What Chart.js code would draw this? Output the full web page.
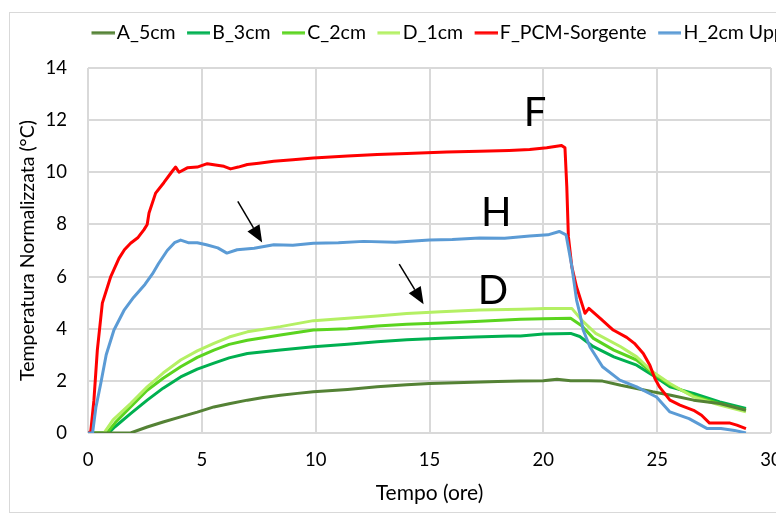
<!DOCTYPE html>
<html><head><meta charset="utf-8">
<script src="https://cdn.jsdelivr.net/npm/chart.js@4.4.1/dist/chart.umd.min.js"></script>
<style>
html,body{margin:0;padding:0;background:#fff;}
#wrap{position:relative;width:776px;height:513px;overflow:hidden;background:#fff;}
#frame{position:absolute;left:9px;top:12px;width:820px;height:499px;border:1px solid #d9d9d9;}
#c{position:absolute;left:0;top:0;}
</style></head><body>
<div id="wrap"><div id="frame"></div><canvas id="c" width="776" height="513"></canvas></div>
<script>
// ---- data (time in hours, normalized temperature in °C) ----
const seriesNames = ['A_5cm', 'B_3cm', 'C_2cm', 'D_1cm', 'F_PCM-Sorgente', 'H_2cm Upper'];

const tA = [0, 1.5, 1.87, 2.6, 3.3, 4.07, 4.8, 5.53, 6.2, 7.0, 7.7, 8.45, 9.2, 9.9, 11.4, 12.7, 14.0, 15.0, 16.5, 18.0, 19.0, 20.0, 20.6, 21.2, 22.0, 22.6, 23.4, 24.1, 24.8, 25.6, 26.6, 27.75, 28.9];
const vA = [0, 0, 0.0, 0.23, 0.42, 0.62, 0.8, 1.0, 1.12, 1.26, 1.36, 1.45, 1.52, 1.58, 1.67, 1.77, 1.85, 1.9, 1.94, 1.98, 1.99, 2.0, 2.06, 2.0, 2.0, 1.99, 1.83, 1.71, 1.58, 1.45, 1.26, 1.13, 0.87];

const tB = [0, 0.9, 1.2, 1.87, 2.6, 3.3, 4.07, 4.8, 5.5, 6.2, 7.0, 8.45, 9.9, 11.4, 12.7, 14.0, 15.5, 17.0, 18.5, 19.0, 20.0, 21.2, 21.6, 22.2, 23.1, 24.1, 24.8, 25.56, 26.6, 27.75, 28.9];
const vB = [0, 0, 0.25, 0.74, 1.26, 1.72, 2.15, 2.45, 2.67, 2.88, 3.05, 3.18, 3.31, 3.4, 3.5, 3.58, 3.63, 3.68, 3.72, 3.72, 3.8, 3.82, 3.7, 3.31, 2.92, 2.6, 2.22, 1.77, 1.52, 1.19, 0.94];

const tC = [0, 0.83, 1.2, 1.87, 2.6, 3.3, 4.07, 4.8, 5.53, 6.2, 7.0, 8.45, 9.9, 11.4, 12.7, 14.0, 15.5, 17.0, 19.0, 20.0, 21.2, 21.7, 22.2, 23.1, 24.1, 24.8, 25.56, 26.6, 27.75, 28.9];
const vC = [0, 0, 0.4, 1.0, 1.64, 2.1, 2.54, 2.9, 3.18, 3.4, 3.56, 3.76, 3.95, 4.0, 4.1, 4.17, 4.22, 4.28, 4.36, 4.38, 4.4, 4.1, 3.63, 3.18, 2.8, 2.3, 1.85, 1.42, 1.12, 0.87];

const tD = [0, 0.7, 1.1, 1.87, 2.6, 3.3, 4.07, 4.8, 5.53, 6.2, 7.0, 8.45, 9.9, 11.4, 12.7, 14.0, 15.5, 17.2, 19.0, 20.1, 21.25, 21.75, 22.3, 23.4, 24.1, 24.8, 25.56, 26.6, 27.75, 28.9];
const vD = [0, 0, 0.5, 1.13, 1.77, 2.3, 2.8, 3.15, 3.44, 3.68, 3.88, 4.08, 4.31, 4.4, 4.49, 4.58, 4.65, 4.72, 4.75, 4.78, 4.78, 4.27, 3.82, 3.31, 2.92, 2.35, 1.9, 1.38, 1.07, 0.81];

const tF = [0.0, 0.12, 0.26, 0.41, 0.63, 1.0, 1.36, 1.6, 1.87, 2.2, 2.46, 2.6, 2.68, 2.97, 3.33, 3.7, 3.85, 4.0, 4.36, 4.8, 5.24, 5.6, 5.97, 6.26, 6.6, 7.0, 7.5, 8.16, 9.0, 9.9, 11.4, 12.7, 14.0, 15.76, 17.2, 18.5, 19.4, 20.15, 20.8, 20.95, 21.03, 21.1, 21.25, 21.46, 21.83, 22.0, 22.5, 23.07, 23.66, 24.0, 24.39, 24.68, 24.9, 25.1, 25.56, 26.0, 26.6, 26.95, 27.3, 28.2, 28.5, 28.9];
const vF = [0.0, 0.05, 1.26, 3.18, 4.98, 6.0, 6.7, 7.03, 7.28, 7.5, 7.8, 8.0, 8.44, 9.2, 9.6, 10.04, 10.2, 10.0, 10.17, 10.2, 10.33, 10.28, 10.23, 10.13, 10.2, 10.3, 10.35, 10.42, 10.48, 10.55, 10.62, 10.68, 10.72, 10.78, 10.81, 10.84, 10.87, 10.94, 11.03, 10.94, 9.46, 7.54, 6.38, 5.6, 4.59, 4.78, 4.4, 3.95, 3.67, 3.44, 3.05, 2.6, 2.09, 1.77, 1.26, 1.07, 0.87, 0.68, 0.38, 0.38, 0.3, 0.17];

const tH = [0.0, 0.2, 0.35, 0.56, 0.8, 1.14, 1.58, 2.0, 2.5, 2.83, 3.1, 3.48, 3.8, 4.07, 4.4, 4.8, 5.2, 5.7, 6.1, 6.55, 7.3, 8.16, 9.0, 9.9, 11.0, 12.1, 13.5, 15.0, 16.0, 17.2, 18.3, 19.4, 20.2, 20.7, 21.0, 21.25, 21.46, 21.6, 21.75, 22.05, 22.6, 23.36, 24.1, 24.97, 25.56, 26.4, 27.2, 27.8, 28.4, 28.9];
const vH = [0.0, 0.0, 1.0, 1.9, 3.0, 3.95, 4.7, 5.2, 5.7, 6.1, 6.5, 7.0, 7.3, 7.4, 7.3, 7.3, 7.22, 7.1, 6.9, 7.03, 7.09, 7.22, 7.2, 7.28, 7.3, 7.35, 7.32, 7.4, 7.42, 7.48, 7.47, 7.56, 7.6, 7.73, 7.6, 6.4, 5.1, 4.6, 3.95, 3.3, 2.54, 2.03, 1.77, 1.38, 0.81, 0.55, 0.17, 0.17, 0.1, 0.0];

const xTickMin = 0, xTickMax = 30, xTickStep = 5;
const yTickMin = 0, yTickMax = 14, yTickStep = 2;

// annotations (in data coordinates)
const noteText = ['F', 'H', 'D'];
const noteX = [19.64, 17.93, 17.79];
const noteY = [12.33, 8.49, 5.48];
const arrowFromX = [6.58, 13.67];
const arrowFromY = [8.88, 6.48];
const arrowToX = [7.65, 14.74];
const arrowToY = [7.31, 4.94];

// ---- styling ----
const colors = ['#548235', '#00B050', '#5BD41F', '#B4F064', '#FF0000', '#5B9BD5'];
const drawOrder = [3, 6, 5, 4, 2, 1];
const FONT = 'Lato';

function legendLine(color) {
  const c = document.createElement('canvas');
  c.width = 30; c.height = 4;
  const g = c.getContext('2d');
  g.strokeStyle = color; g.lineWidth = 3;
  g.beginPath(); g.moveTo(7, 2); g.lineTo(30, 2); g.stroke();
  return c;
}

const times = [tA, tB, tC, tD, tF, tH];
const vals = [vA, vB, vC, vD, vF, vH];
const datasets = seriesNames.map((name, i) => ({
  label: name,
  data: times[i].map((t, k) => ({x: t, y: vals[i][k]})),
  borderColor: colors[i],
  backgroundColor: colors[i],
  borderWidth: 3,
  pointRadius: 0,
  pointStyle: legendLine(colors[i]),
  tension: 0,
  borderJoinStyle: 'round',
  fill: false,
  order: drawOrder[i]
}));

const annotations = {
  id: 'annotations',
  afterDatasetsDraw(chart) {
    const {ctx, scales: {x, y}} = chart;
    ctx.save();
    ctx.fillStyle = '#000';
    ctx.font = '40px ' + FONT;
    ctx.textAlign = 'center';
    ctx.textBaseline = 'alphabetic';
    noteText.forEach((t, i) => {
      ctx.fillText(t, x.getPixelForValue(noteX[i]), y.getPixelForValue(noteY[i]) + 0.358 * 40);
    });
    ctx.strokeStyle = '#000';
    ctx.lineWidth = 1.5;
    arrowFromX.forEach((_, i) => {
      const x0 = x.getPixelForValue(arrowFromX[i]), y0 = y.getPixelForValue(arrowFromY[i]);
      const x1 = x.getPixelForValue(arrowToX[i]), y1 = y.getPixelForValue(arrowToY[i]);
      const a = Math.atan2(y1 - y0, x1 - x0);
      const hl = 17, hw = 7;
      const bx = x1 - hl * Math.cos(a), by = y1 - hl * Math.sin(a);
      ctx.beginPath(); ctx.moveTo(x0, y0); ctx.lineTo(bx, by); ctx.stroke();
      ctx.beginPath();
      ctx.moveTo(x1, y1);
      ctx.lineTo(bx + hw * Math.sin(a), by - hw * Math.cos(a));
      ctx.lineTo(bx - hw * Math.sin(a), by + hw * Math.cos(a));
      ctx.closePath(); ctx.fill();
    });
    ctx.restore();
  }
};

const legendShift = {
  id: 'legendShift',
  beforeDraw(chart) {
    const lg = chart.legend;
    if (lg) { lg.left = 80; lg.right = 3000; }
  }
};

new Chart(document.getElementById('c'), {
  type: 'line',
  data: {datasets},
  plugins: [annotations, legendShift],
  options: {
    responsive: false,
    animation: false,
    layout: {autoPadding: false, padding: {left: 12, right: 5, top: 11, bottom: 3}},
    plugins: {
      legend: {
        align: 'start',
        labels: {
          usePointStyle: true,
          pointStyleWidth: 15,
          padding: 12,
          color: '#000',
          font: {family: FONT, size: 19.5},
          sort: (a, b) => a.datasetIndex - b.datasetIndex
        }
      },
      tooltip: {enabled: false}
    },
    scales: {
      x: {
        type: 'linear', min: xTickMin, max: xTickMax,
        ticks: {stepSize: xTickStep, padding: 16, color: '#000', font: {family: FONT, size: 18.5}},
        grid: {color: '#d9d9d9', lineWidth: 2, drawTicks: false},
        border: {display: false},
        title: {display: true, text: 'Tempo (ore)', color: '#000', font: {family: FONT, size: 21}, padding: {top: 4, bottom: 4}},
        afterFit(s) { s.height = 513 - 3 - 433; s.paddingLeft = 0; s.paddingRight = 0; }
      },
      spacer: {
        type: 'linear', position: 'top', min: xTickMin, max: xTickMax,
        grid: {display: false, drawTicks: false},
        ticks: {display: false},
        border: {display: false},
        afterFit(s) { s.height = 68 - 11 - s.chart.legend.height; s.paddingLeft = 0; s.paddingRight = 0; }
      },
      y: {
        min: yTickMin, max: yTickMax,
        ticks: {stepSize: yTickStep, padding: 21, color: '#000', font: {family: FONT, size: 18.5}},
        grid: {color: '#d9d9d9', lineWidth: 2, drawTicks: false},
        border: {display: false},
        title: {display: true, text: 'Temperatura Normalizzata (°C)', color: '#000', font: {family: FONT, size: 19.5}, padding: {top: 4, bottom: 4}},
        afterFit(s) { s.width = 88 - 12; s.paddingTop = 0; s.paddingBottom = 0; }
      }
    }
  }
});
</script>
</body></html>
